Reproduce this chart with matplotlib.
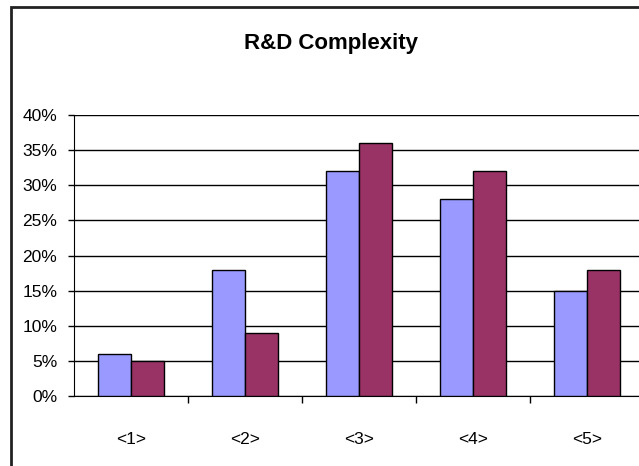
import numpy as np
import matplotlib.pyplot as plt
from matplotlib.patches import Rectangle
from matplotlib.ticker import PercentFormatter

plt.rcParams['font.family'] = ['Liberation Sans', 'DejaVu Sans']

# Data
categories = ['<1>', '<2>', '<3>', '<4>', '<5>']
series_a = [6, 18, 32, 28, 15]
series_b = [5, 9, 36, 32, 18]

fig = plt.figure(figsize=(6.39, 4.66), dpi=100)
ax = fig.add_axes([74 / 639, 70 / 466, 570 / 639, 281 / 466])

x = np.arange(len(categories))
w = 0.29
ax.bar(x - w / 2, series_a, w, color='#9999FF', edgecolor='black', linewidth=1, zorder=3)
ax.bar(x + w / 2, series_b, w, color='#993366', edgecolor='black', linewidth=1, zorder=3)

ax.set_xlim(-0.5, len(categories) - 0.5)
ax.set_ylim(0, 40)
ax.set_yticks(range(0, 41, 5))
ax.yaxis.set_major_formatter(PercentFormatter(decimals=0))
ax.grid(axis='y', color='black', linewidth=1, zorder=0)

# category labels between boundary ticks, like Excel
ax.set_xticks(x)
ax.set_xticklabels(categories)
ax.tick_params(axis='x', length=0, pad=26, labelsize=12.5)
ax.set_xticks(np.arange(0.5, len(categories) - 0.5, 1), minor=True)
ax.tick_params(axis='x', which='minor', length=5, width=1, direction='out')
ax.tick_params(axis='y', length=4, width=1, direction='out', pad=8, labelsize=12.5)

for s in ['top', 'right']:
    ax.spines[s].set_visible(False)
ax.spines['left'].set_color('black')
ax.spines['bottom'].set_color('black')

fig.text(331 / 639, 1 - 44 / 466, 'R&D Complexity', ha='center', va='center',
         fontsize=16, fontweight='bold',
         family=['Liberation Sans Narrow', 'Liberation Sans'])

# chart frame (cropped on the right and bottom)
fig.patches.append(Rectangle((11 / 639, -0.1), 1.2, 1 - 7 / 466 + 0.1,
                             transform=fig.transFigure, fill=False,
                             edgecolor='#222222', linewidth=2))

fig.savefig('out.png', dpi=100)
